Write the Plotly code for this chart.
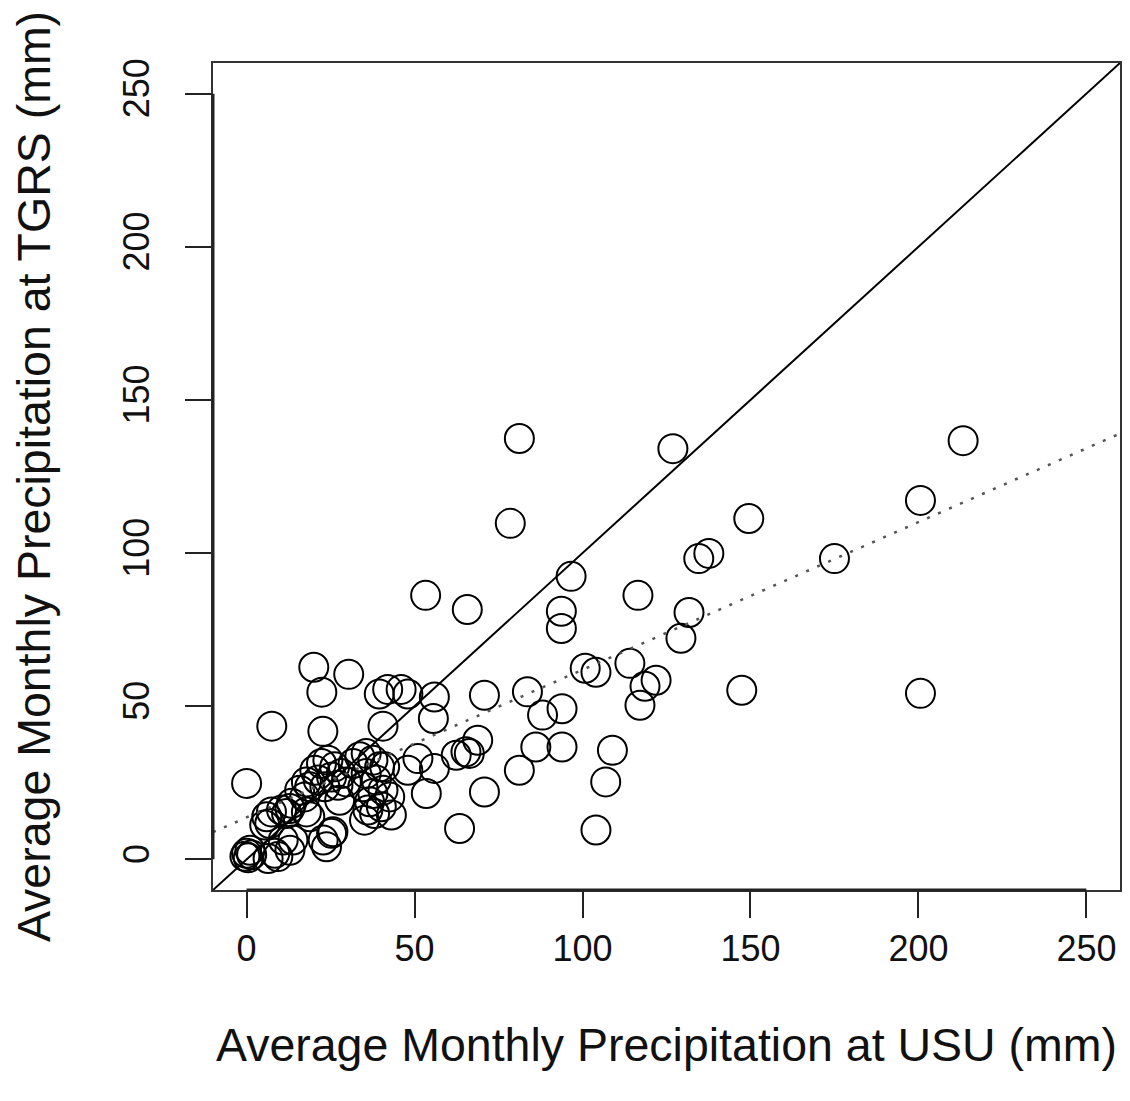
import plotly.graph_objects as go

# Average monthly precipitation (mm): USU (x) vs TGRS (y)
usu = [213.3, 81.2, 126.9, 200.6, 78.5, 149.5, 175.0, 134.6, 137.6, 96.6,
       53.3, 65.7, 116.5, 93.7, 93.7, 131.7, 129.3, 20.0, 30.4, 22.4,
       100.8, 104.0, 114.1, 117.1, 118.6, 121.9, 147.4, 200.6, 7.5, 22.7,
       39.5, 42.0, 46.0, 48.0, 55.9, 55.6, 70.8, 83.6, 88.1, 93.9,
       68.8, 65.3, 66.3, 62.4, 86.1, 93.9, 108.9, 106.9, 81.2, 70.8,
       63.4, 104.0, 51.0, 55.9, 48.0, 53.5, 43.1, 40.6, 0.0,
       12.9, 10.4, 7.4, 6.0, 11.9, 5.4, 6.9, 17.8, 15.8, 18.8, 17.8,
       20.3, 22.3, 24.2, 26.2, 28.2, 25.3, 21.3, 23.3, 27.2, 29.7,
       31.7, 33.7, 35.6, 37.6, 39.6, 35.6, 38.6, 34.6, 37.6, 40.6, 42.6, 41.1,
       36.6, 36.1, 38.1, 40.1, 35.1, 17.3, 13.4, 18.8, 25.7, 22.8, 25.3, 23.8,
       27.7, 0.0, 0.5, 1.0, -0.5, 1.5, 6.4, 8.4, 9.3, 12.9, 10.9, 13.8]
tgrs = [136.7, 137.4, 134.1, 117.2, 109.7, 111.3, 98.2, 98.2, 99.9, 92.4,
        86.2, 81.6, 86.2, 81.0, 75.4, 80.6, 72.2, 62.7, 60.4, 54.6,
        62.4, 61.1, 64.0, 50.3, 56.5, 58.5, 55.2, 54.2, 43.5, 41.8,
        54.0, 55.5, 55.5, 54.0, 53.0, 46.0, 53.6, 54.7, 47.1, 49.2,
        38.9, 35.1, 34.6, 34.0, 36.7, 36.7, 35.6, 25.3, 29.1, 22.0,
        10.1, 9.6, 32.9, 29.7, 29.1, 21.5, 14.5, 43.5, 24.8,
        16.6, 16.1, 15.5, 13.9, 15.0, 11.2, 11.7, 15.5, 22.6, 23.7, 25.3,
        29.1, 31.3, 32.4, 30.2, 28.0, 26.9, 25.9, 23.7, 24.2, 25.3,
        31.3, 33.5, 34.6, 32.4, 30.2, 28.0, 25.9, 23.7, 21.5, 22.6, 20.4, 30.2,
        18.8, 16.1, 15.0, 17.2, 12.8, 20.4, 18.3, 13.9, 9.0, 6.3, 8.5, 4.1,
        19.3, 2.0, 0.5, 3.0, 1.0, 1.5, 0.3, 2.0, 0.9, 3.0, 6.3, 6.3]

# Fitted regression line (dotted)
fit_intercept = 13.7
fit_slope = 0.482

axis_range = [-10, 260]
tick_vals = [0, 50, 100, 150, 200, 250]

line_x = axis_range
one_to_one_y = line_x
fit_y = [fit_intercept + fit_slope * v for v in line_x]

font_family = "Liberation Sans, Arial, Helvetica, sans-serif"

fig = go.Figure()
fig.add_trace(go.Scatter(
    x=usu, y=tgrs, mode="markers",
    marker=dict(symbol="circle", size=29, color="rgba(0,0,0,0)",
                line=dict(color="black", width=2)),
    showlegend=False, cliponaxis=False))
fig.add_trace(go.Scatter(
    x=line_x, y=one_to_one_y, mode="lines",
    line=dict(color="black", width=2), showlegend=False))
fig.add_trace(go.Scatter(
    x=line_x, y=fit_y, mode="lines",
    line=dict(color="#555555", width=2.5, dash="3px,9px"), showlegend=False))

axis_common = dict(
    range=axis_range, tickvals=tick_vals, ticks="outside", ticklen=26,
    tickwidth=2, tickcolor="#222", showline=True, linecolor="#333",
    linewidth=1.5, mirror=True, showgrid=False, zeroline=False,
    tickfont=dict(family=font_family, size=36, color="#111"),
)

fig.update_layout(
    width=1122, height=1093,
    margin=dict(l=205, r=8, t=55, b=211),
    paper_bgcolor="white", plot_bgcolor="white",
    xaxis=dict(**axis_common,
               title=dict(text="Average Monthly Precipitation at USU (mm)",
                          font=dict(family=font_family, size=46.5, color="#111"),
                          standoff=60)),
    yaxis=dict(**axis_common, tickangle=-90, ticklabelstandoff=22,
               title=dict(text="Average Monthly Precipitation at TGRS (mm)",
                          font=dict(family=font_family, size=46.5, color="#111"),
                          standoff=52)),
)

# R-style axis lines spanning the tick range
fig.add_shape(type="line", xref="x", yref="paper", x0=tick_vals[0], x1=tick_vals[-1],
              y0=0, y1=0, line=dict(color="#222", width=3))
fig.add_shape(type="line", xref="paper", yref="y", x0=0, x1=0,
              y0=tick_vals[0], y1=tick_vals[-1], line=dict(color="#222", width=3))

fig.write_html("out.html")
